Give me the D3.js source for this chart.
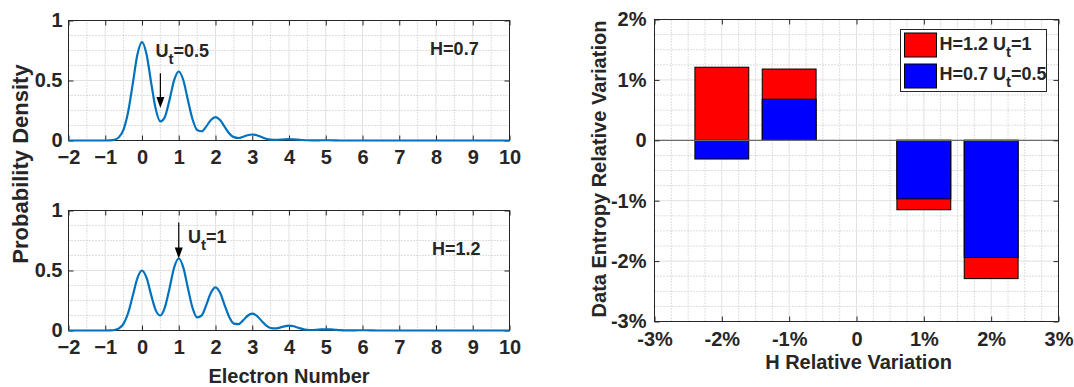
<!DOCTYPE html>
<html>
<head>
<meta charset="utf-8">
<script src="https://cdn.jsdelivr.net/npm/d3@7/dist/d3.min.js"></script>
<style>
  body { margin: 0; background: #fff; }
  svg text { font-family: "Liberation Sans", Arial, sans-serif; font-weight: bold; fill: #262626; }
</style>
</head>
<body>
<svg id="fig" width="1074" height="387"></svg>
<script>
// ---- data ----
// electron number grid: -1..7 in steps of 1/8, padded with the axis ends
const electronN = [-2, ...d3.range(0, 65).map(i => -1 + i / 8), 10];

// probability density, H = 0.7 (top panel)
const densityH07 = [0,
  0, 0.001, 0.006, 0.028, 0.093, 0.242, 0.476, 0.716,
  0.82, 0.717, 0.480, 0.261, 0.159, 0.198, 0.340, 0.503,
  0.575, 0.502, 0.335, 0.177, 0.088, 0.077, 0.118, 0.171,
  0.195, 0.170, 0.114, 0.059, 0.028, 0.021, 0.031, 0.044,
  0.050, 0.044, 0.029, 0.015, 0.007, 0.005, 0.007, 0.010,
  0.012, 0.010, 0.007, 0.004, 0.002, 0.001, 0.001, 0.002,
  0.002, 0.002, 0.001, 0, 0, 0, 0, 0,
  0, 0, 0, 0, 0, 0, 0, 0,
  0,
0];

// probability density, H = 1.2 (bottom panel)
const densityH12 = [0,
  0, 0.001, 0.004, 0.017, 0.057, 0.148, 0.291, 0.437,
  0.5, 0.438, 0.295, 0.168, 0.125, 0.194, 0.353, 0.525,
  0.6, 0.524, 0.352, 0.189, 0.109, 0.126, 0.214, 0.315,
  0.36, 0.314, 0.210, 0.111, 0.057, 0.053, 0.084, 0.123,
  0.14, 0.122, 0.082, 0.043, 0.021, 0.017, 0.024, 0.035,
  0.04, 0.035, 0.023, 0.012, 0.006, 0.004, 0.006, 0.009,
  0.01, 0.009, 0.006, 0.003, 0.001, 0.001, 0.001, 0.002,
  0.002, 0.002, 0.001, 0, 0, 0, 0, 0,
  0,
0];

// entropy variation (%) vs H variation (%)
const hVariation = [-2, -1, 0, 1, 2];
const entropyH12 = [1.21, 1.18, 0, -1.15, -2.29];
const entropyH07 = [-0.31, 0.68, 0, -0.97, -1.94];

const legendLabels = [
  { name: 'H=1.2 U', sub: 't', rest: '=1', color: '#ff0000' },
  { name: 'H=0.7 U', sub: 't', rest: '=0.5', color: '#0000ff' }
];

const ink = '#262626';
const svg = d3.select('#fig');

function drawGrid(g, x, y, xMajor, yMajor, xMinor, yMinor) {
    const [xa, xb] = x.range(), [ya, yb] = y.range();
    const minor = g.append('g').attr('stroke', '#bdbdbd').attr('stroke-dasharray', '1,2');
    minor.selectAll('.vx').data(xMinor).join('line')
        .attr('x1', d => x(d)).attr('x2', d => x(d)).attr('y1', ya).attr('y2', yb);
    minor.selectAll('.hy').data(yMinor).join('line')
        .attr('x1', xa).attr('x2', xb).attr('y1', d => y(d)).attr('y2', d => y(d));
    const major = g.append('g').attr('stroke', '#e1e1e1');
    major.selectAll('.vx').data(xMajor).join('line')
        .attr('x1', d => x(d)).attr('x2', d => x(d)).attr('y1', ya).attr('y2', yb);
    major.selectAll('.hy').data(yMajor).join('line')
        .attr('x1', xa).attr('x2', xb).attr('y1', d => y(d)).attr('y2', d => y(d));
}

function drawAxes(g, x, y, xTicks, yTicks, fmtX, fmtY, padX, padY) {
    const [xa, xb] = x.range(), [ya, yb] = y.range();
    const bottom = g.append('g').attr('transform', `translate(0,${ya})`)
        .call(d3.axisBottom(x).tickValues(xTicks).tickFormat(fmtX).tickSizeInner(-5).tickSizeOuter(0).tickPadding(padX));
    const left = g.append('g').attr('transform', `translate(${xa},0)`)
        .call(d3.axisLeft(y).tickValues(yTicks).tickFormat(fmtY).tickSizeInner(-5).tickSizeOuter(0).tickPadding(padY));
    const top = g.append('g').attr('transform', `translate(0,${yb})`)
        .call(d3.axisTop(x).tickValues(xTicks).tickFormat('').tickSizeInner(-5).tickSizeOuter(0));
    const right = g.append('g').attr('transform', `translate(${xb},0)`)
        .call(d3.axisRight(y).tickValues(yTicks).tickFormat('').tickSizeInner(-5).tickSizeOuter(0));
    [bottom, left, top, right].forEach(a => {
        a.attr('color', ink);
        a.select('.domain').remove();
        a.selectAll('text').attr('font-size', null).attr('font-family', null).style('font-size', '20px');
    });
    g.append('rect')
        .attr('x', xa).attr('y', yb).attr('width', xb - xa).attr('height', ya - yb)
        .attr('fill', 'none').attr('stroke', ink);
}

function subText(g, px, py, name, sub, rest, size) {
    const t = g.append('text').attr('x', px).attr('y', py).style('font-size', size + 'px');
    t.append('tspan').text(name);
    t.append('tspan').attr('dy', 7).style('font-size', (size - 3) + 'px').text(sub);
    t.append('tspan').attr('dy', -7).text(rest);
    return t;
}

function arrow(g, x1, y1, x2, y2) {
    const head = 11, half = 4;
    g.append('line').attr('x1', x1).attr('y1', y1).attr('x2', x2).attr('y2', y2 - head + 1)
        .attr('stroke', '#000').attr('stroke-width', 1.2);
    g.append('path')
        .attr('d', `M${x2},${y2} L${x2 - half},${y2 - head} L${x2 + half},${y2 - head} Z`)
        .attr('fill', '#000');
}

// ---- left: probability density panels ----
const xN = d3.scaleLinear().domain([-2, 10]).range([68.5, 509.5]);
const panels = [
    { dens: densityH07, top: 20.5, bottom: 140.5, arrowX: 0.5, arrowFrom: 0.56, arrowTo: 0.27,
      ut: '0.5', utPos: [0.37, 0.70], h: 'H=0.7', hPos: [7.84, 0.71] },
    { dens: densityH12, top: 210.5, bottom: 330.5, arrowX: 1, arrowFrom: 0.9, arrowTo: 0.6,
      ut: '1', utPos: [1.25, 0.73], h: 'H=1.2', hPos: [7.89, 0.63] }
];

const nMajor = d3.range(-2, 10.5, 1);
const nMinor = d3.range(-1.5, 10, 1);
const pMajor = [0, 0.5, 1];
const pMinor = [0.125, 0.25, 0.375, 0.625, 0.75, 0.875];

panels.forEach(p => {
    const y = d3.scaleLinear().domain([0, 1]).range([p.bottom, p.top]);
    const g = svg.append('g');
    drawGrid(g, xN, y, nMajor, pMajor, nMinor, pMinor);
    drawAxes(g, xN, y, nMajor, pMajor, d3.format('d'), d => d === 0.5 ? '0.5' : d3.format('d')(d), 9, 6);

    const line = d3.line()
        .x((d, i) => xN(electronN[i]))
        .y(d => y(d))
        .curve(d3.curveMonotoneX);
    g.append('path')
        .datum(p.dens)
        .attr('d', line)
        .attr('fill', 'none')
        .attr('stroke', '#0072bd')
        .attr('stroke-width', 2.2)
        .attr('stroke-linejoin', 'round');

    arrow(g, xN(p.arrowX), y(p.arrowFrom), xN(p.arrowX), y(p.arrowTo));
    subText(g, xN(p.utPos[0]), y(p.utPos[1]), 'U', 't', '=' + p.ut, 18);
    g.append('text').attr('x', xN(p.hPos[0])).attr('y', y(p.hPos[1])).style('font-size', '18px').text(p.h);
});

svg.append('text')
    .attr('transform', 'translate(28,164) rotate(-90)')
    .attr('text-anchor', 'middle')
    .style('font-size', '22px')
    .text('Probability Density');

svg.append('text')
    .attr('x', xN(4)).attr('y', 383)
    .attr('text-anchor', 'middle')
    .style('font-size', '20px')
    .text('Electron Number');

// ---- right: entropy variation bars ----
const xH = d3.scaleLinear().domain([-3, 3]).range([654.5, 1058.5]);
const yE = d3.scaleLinear().domain([-3, 2]).range([321.5, 19.5]);
const pct = d => d === 0 ? '0' : d + '%';
const gr = svg.append('g');
const quarters = d3.range(-3, 3.001, 0.25).filter(d => !Number.isInteger(d));
drawGrid(gr, xH, yE, d3.range(-3, 4), d3.range(-3, 3), quarters, quarters.filter(d => d < 2));

const barHalf = 0.4;
const seriesBars = [
    { values: entropyH12, color: '#ff0000' },
    { values: entropyH07, color: '#0000ff' }
];
seriesBars.forEach(s => {
    const rows = hVariation.map((h, i) => ({ h, v: s.values[i] })).filter(d => d.v !== 0);
    gr.append('g').selectAll('rect').data(rows).join('rect')
        .attr('x', d => xH(d.h - barHalf))
        .attr('width', xH(barHalf) - xH(-barHalf))
        .attr('y', d => yE(Math.max(0, d.v)))
        .attr('height', d => Math.abs(yE(d.v) - yE(0)))
        .attr('fill', s.color)
        .attr('stroke', '#000')
        .attr('stroke-width', 1);
});

// bar baseline
gr.append('line')
    .attr('x1', xH(-3)).attr('x2', xH(3)).attr('y1', yE(0)).attr('y2', yE(0))
    .attr('stroke', '#6b6b6b').attr('stroke-width', 1.3);

drawAxes(gr, xH, yE, d3.range(-3, 4), d3.range(-3, 3), pct, pct, 10, 8);

svg.append('text')
    .attr('transform', 'translate(606,169) rotate(-90)')
    .attr('text-anchor', 'middle')
    .style('font-size', '20px')
    .text('Data Entropy Relative Variation');

svg.append('text')
    .attr('x', xH(0) + 2).attr('y', 369)
    .attr('text-anchor', 'middle')
    .style('font-size', '20px')
    .text('H Relative Variation');

// legend
const lg = svg.append('g').attr('transform', 'translate(900.5,29.5)');
lg.append('rect').attr('width', 146).attr('height', 62).attr('fill', '#fff').attr('stroke', ink);
legendLabels.forEach((d, i) => {
    lg.append('rect')
        .attr('x', 4).attr('y', 3.5 + i * 31).attr('width', 32).attr('height', 24)
        .attr('fill', d.color).attr('stroke', '#000');
    subText(lg, 39, 20 + i * 30.5, d.name, d.sub, d.rest, 18);
});
</script>
</body>
</html>
